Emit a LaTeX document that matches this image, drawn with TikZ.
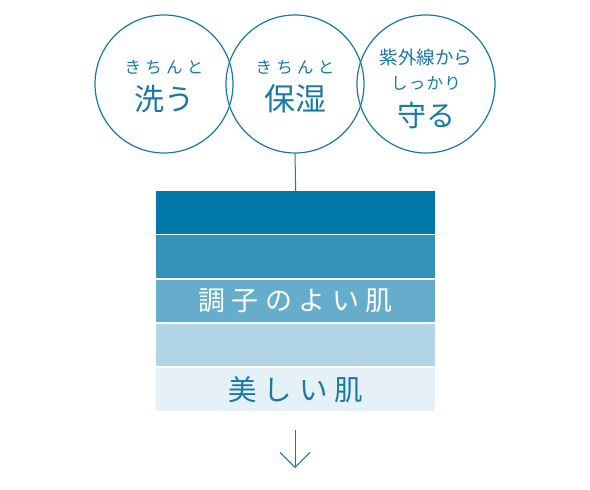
\documentclass[tikz,border=0pt]{standalone}
\usepackage{fontspec}
\newfontfamily\jp{Noto Sans CJK JP}
\newfontfamily\jpsp[LetterSpace=26]{Noto Sans CJK JP}
\newfontfamily\jpbar[LetterSpace=24]{Noto Sans CJK JP}
\newfontfamily\jpmid[LetterSpace=8]{Noto Sans CJK JP}
\usetikzlibrary{arrows.meta}
\definecolor{ink}{HTML}{1A78A4}
\definecolor{barA}{HTML}{0079A8}
\definecolor{barB}{HTML}{3592B9}
\definecolor{barC}{HTML}{66ADCC}
\definecolor{barD}{HTML}{B2D6E6}
\definecolor{barE}{HTML}{E5F1F7}
\tikzset{
  ring/.style={circle, draw=ink, line width=1.2pt, minimum size=138pt, inner sep=0pt},
  band/.style={rectangle, minimum width=279pt, minimum height=42.5pt, inner sep=0pt, anchor=north west},
  small/.style={text=ink, font=\jpsp\fontsize{16.5}{18}\selectfont, inner sep=0pt},
  big/.style={text=ink, font=\jp\fontsize{30}{32}\selectfont, inner sep=0pt},
  link/.style={draw=ink, line width=1pt},
}
\begin{document}
\begin{tikzpicture}[x=1pt,y=-1pt]
\useasboundingbox (0,0) rectangle (590,490);
% circles
\node[ring] (c1) at (164,84) {};
\node[ring] (c2) at (295,84) {};
\node[ring] (c3) at (426,84) {};
\node[small] (t1a) at (164,67) {きちんと};
\node[big] (t1b) at (164,99) {洗う};
\node[small] (t2a) at (295,67) {きちんと};
\node[big, font=\jp\fontsize{31}{33}\selectfont] (t2b) at (295,99) {保湿};
\node[small, font=\jp\fontsize{18.5}{20}\selectfont] (t3a) at (426,57) {紫外線から};
\node[small, font=\jpmid\fontsize{16.5}{18}\selectfont] (t3b) at (426,83) {しっかり};
\node[big, font=\jp\fontsize{29}{31}\selectfont] (t3c) at (426,115) {守る};
% bands
\node[band, fill=barA] (b1) at (156,191) {};
\node[band, fill=barB] (b2) at (156,235.2) {};
\node[band, fill=barC] (b3) at (156,279.4) {};
\node[band, fill=barD] (b4) at (156,323.6) {};
\node[band, fill=barE] (b5) at (156,367.8) {};
\node[text=white, font=\jpbar\fontsize{27}{29}\selectfont, inner sep=0pt] (l3) at (b3.center) {調子のよい肌};
\node[text=ink, font=\jpbar\fontsize{28.5}{30}\selectfont, inner sep=0pt] (l5) at (b5.center) {美しい肌};
% connectors
\draw[link] (c2.south) -- (b1.north);
\coordinate (a0) at (295,430);
\coordinate (a1) at (295,468);
\draw[link, -{Straight Barb[length=15pt, width=30pt, line width=1pt]}] (a0) -- (a1);
\end{tikzpicture}
\end{document}
